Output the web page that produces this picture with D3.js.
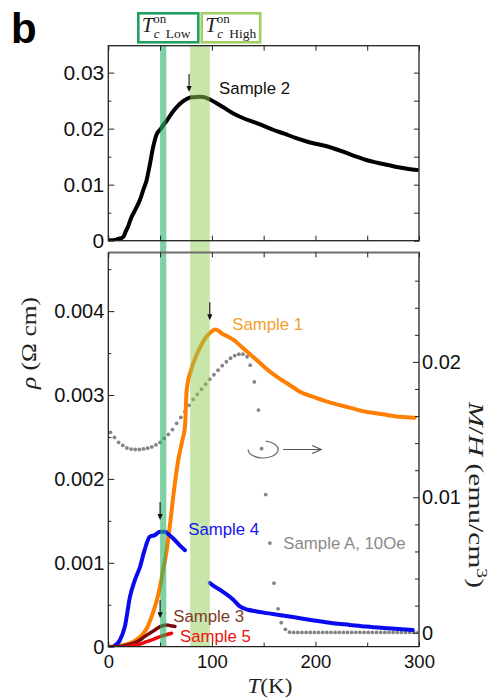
<!DOCTYPE html>
<html><head><meta charset="utf-8">
<script src="https://cdn.jsdelivr.net/npm/d3@7"></script>
<style>html,body{margin:0;padding:0;background:#fff;} svg{display:block;}</style>
</head><body><svg id="c" width="489" height="698"></svg>
<script>
// ---------------- data ----------------
const xTicks = [0, 100, 200, 300];
const xMinorTicks = [50, 150, 250];
const rhoTopTicks = [0, 0.01, 0.02, 0.03];
const rhoTopMinor = [0.005, 0.015, 0.025];
const rhoBotTicks = [0, 0.001, 0.002, 0.003, 0.004];
const rhoBotMinor = [0.0005, 0.0015, 0.0025, 0.0035, 0.0045];
const mhTicks = [0, 0.01, 0.02];
const mhMinor = [0.002, 0.004, 0.006, 0.008, 0.012, 0.014, 0.016, 0.018, 0.022, 0.024, 0.026];

const tcLow = [50, 56];
const tcHigh = [79, 98];

// Sample 2 (top panel)
const s2T   = [2, 5, 8, 11, 13, 15, 16, 19, 22.6, 26, 30.6, 34, 37, 40, 43.4, 46.7, 50, 53, 56.4, 60, 64, 69, 74, 78, 82, 88.5, 93, 98, 105, 112, 120.7, 130, 140, 150, 159, 170, 180, 190, 198, 208, 217, 228, 238, 249, 260, 270, 280, 290, 298];
const s2Rho = [0.0001, 0.0001, 0.0002, 0.0004, 0.0005, 0.0008, 0.0013, 0.0025, 0.0043, 0.0055, 0.0073, 0.0092, 0.0108, 0.0135, 0.0168, 0.0190, 0.0198, 0.0206, 0.0214, 0.0224, 0.0234, 0.0244, 0.0251, 0.0255, 0.0256, 0.0257, 0.0256, 0.0252, 0.0245, 0.0237, 0.0227, 0.0219, 0.0212, 0.0205, 0.0198, 0.0191, 0.0184, 0.0178, 0.0174, 0.0170, 0.0165, 0.0158, 0.0151, 0.0144, 0.0139, 0.0135, 0.0131, 0.0128, 0.0126];

// Sample 1
const s1T   = [2, 10, 18, 24, 30, 34, 38, 43, 47, 50, 53, 56.4, 60, 62.7, 67.6, 71.5, 74, 75.7, 80, 85.3, 90, 95, 98.2, 103, 106, 110, 115, 120.7, 130, 143, 152, 162.5, 175, 185, 200, 217, 233, 249, 265, 281.6, 296];
const s1Rho = [0, 0.00001, 0.00003, 0.00006, 0.00011, 0.00016, 0.00024, 0.0004, 0.00056, 0.00072, 0.00092, 0.00115, 0.0015, 0.00179, 0.00223, 0.00246, 0.00262, 0.00306, 0.0033, 0.00348, 0.0036, 0.0037, 0.00374, 0.00378, 0.00377, 0.00373, 0.0037, 0.00366, 0.00356, 0.00342, 0.00332, 0.00322, 0.00312, 0.00304, 0.00297, 0.0029, 0.00285, 0.0028, 0.00277, 0.00274, 0.00273];

// Sample 4 (two measured segments)
const s4aT   = [5, 11.3, 16, 21, 25.8, 30.6, 35, 40, 45, 50, 54.7, 58, 62.7, 68, 74];
const s4aRho = [0, 0.00008, 0.00024, 0.0006, 0.0008, 0.00095, 0.00115, 0.00131, 0.00133, 0.00137, 0.00137, 0.00134, 0.00129, 0.00122, 0.00115];
const s4bT   = [98, 100, 110, 120.7, 127, 135, 143, 153, 170, 185, 200, 217, 233, 249, 270, 294];
const s4bRho = [0.00076, 0.00074, 0.00066, 0.00056, 0.00048, 0.00044, 0.00042, 0.0004, 0.00037, 0.00034, 0.00031, 0.00028, 0.00026, 0.00024, 0.00022, 0.0002];

// Sample 3
const s3T   = [2, 10, 17.8, 24, 30.6, 35, 40, 45, 50, 56.4, 60, 64.4];
const s3Rho = [0, 0, 0.00002, 0.00004, 0.00008, 0.00012, 0.00016, 0.0002, 0.00024, 0.00026, 0.00025, 0.00024];

// Sample 5
const s5T   = [17.8, 25, 30, 37, 44, 50, 55, 61];
const s5Rho = [0, 0.00002, 0.00003, 0.00006, 0.00009, 0.00012, 0.00014, 0.00016];

// Sample A, 10 Oe : M/H (right axis)
const saT = [2, 6, 10, 14, 18, 22, 26, 30, 34, 38, 42, 46, 50, 54, 58, 62, 66, 70, 74, 78, 82, 86, 90, 94, 98, 102, 106, 110, 114, 118, 122, 126, 130, 134, 137, 141, 145, 148, 152, 156, 160, 164, 167, 171, 175, 179, 183, 187, 191, 195, 199, 203, 207, 211, 215, 219, 223, 227, 231, 235, 239, 243, 247, 251, 255, 259, 263, 267, 271, 275, 279, 283, 287, 291, 295, 299];
const saM = [0.0148, 0.01442, 0.01405, 0.01383, 0.01364, 0.01356, 0.01353, 0.01353, 0.01357, 0.01363, 0.01372, 0.01387, 0.01405, 0.01435, 0.01464, 0.0150, 0.01546, 0.0159, 0.01634, 0.01679, 0.01723, 0.0176, 0.01798, 0.01835, 0.01872, 0.01905, 0.01939, 0.01972, 0.02001, 0.02027, 0.02046, 0.02057, 0.02057, 0.02038, 0.01976, 0.01852, 0.01644, 0.01359, 0.0102, 0.00662, 0.00366, 0.00176, 0.00074, 0.00025, 0.00004, 0.00002, 0.00002, 0.00002, 0.00002, 0.00002, 0.00002, 0.00002, 0.00002, 0.00002, 0.00002, 0.00002, 0.00002, 0.00002, 0.00002, 0.00002, 0.00002, 0.00002, 0.00002, 0.00002, 0.00002, 0.00002, 0.00002, 0.00002, 0.00002, 0.00002, 0.00002, 0.00002, 0.00002, 0.00002, 0.00002, 0.00002];

// Onset arrows
const arrowT = [78, 98, 50, 50];
const arrowVal = [0.02655, 0.00389, 0.00151, 0.00034];
const arrowPanel = ["top", "bot", "bot", "bot"];

const sampleNames = ["Sample 1", "Sample 2", "Sample 3", "Sample 4", "Sample 5", "Sample A, 10Oe"];

// ---------------- drawing ----------------
const svg = d3.select("#c");
const SANS = "'Liberation Sans', Arial, sans-serif";
const SERIF = "'Liberation Serif', 'Times New Roman', serif";

const x = d3.scaleLinear().domain([0, 300]).range([108.3, 419]);
const yTop = d3.scaleLinear().domain([0, 0.0348]).range([240.7, 45.7]);
const yBot = d3.scaleLinear().domain([0, 0.0047]).range([646.7, 252.4]);
const yM = d3.scaleLinear().domain([0, 0.02]).range([632.7, 361.9]);

const defs = svg.append("defs");
defs.append("clipPath").attr("id", "clipTop").append("rect")
  .attr("x", x(0)).attr("y", yTop.range()[1]).attr("width", x(300) - x(0)).attr("height", yTop.range()[0] - yTop.range()[1]);
defs.append("clipPath").attr("id", "clipBot").append("rect")
  .attr("x", x(0)).attr("y", yBot.range()[1]).attr("width", x(300) - x(0)).attr("height", yBot.range()[0] - yBot.range()[1]);

// panel label
svg.append("text").attr("x", 11).attr("y", 43).attr("font-family", SANS).attr("font-weight", "bold")
  .attr("font-size", 42).attr("fill", "#000").text("b");

// curves
const gTop = svg.append("g").attr("clip-path", "url(#clipTop)");
const gBot = svg.append("g").attr("clip-path", "url(#clipBot)");

function drawLine(g, T, V, ys, color, w) {
  const pts = T.map((t, i) => [t, V[i]]);
  g.append("path").datum(pts)
    .attr("fill", "none").attr("stroke", color).attr("stroke-width", w)
    .attr("stroke-linejoin", "round").attr("stroke-linecap", "round")
    .attr("d", d3.line().x(d => x(d[0])).y(d => ys(d[1])).curve(d3.curveMonotoneX));
}

drawLine(gTop, s2T, s2Rho, yTop, "#000", 4);

// Sample A dots
gBot.append("g").selectAll("circle").data(saT.map((t, i) => [t, saM[i]])).join("circle")
  .attr("cx", d => x(d[0])).attr("cy", d => yM(d[1])).attr("r", 1.9).attr("fill", "#858585");

drawLine(gBot, s1T, s1Rho, yBot, "#ff7f00", 4);
drawLine(gBot, s4aT, s4aRho, yBot, "#0a0af0", 4);
drawLine(gBot, s4bT, s4bRho, yBot, "#0a0af0", 4);
drawLine(gBot, s3T, s3Rho, yBot, "#7a0a0a", 3.5);
drawLine(gBot, s5T, s5Rho, yBot, "#e80808", 3.5);

// Tc bands (translucent, over the curves)
const bandTop = yTop.range()[1], bandBot = yBot.range()[0];
svg.append("rect").attr("x", x(tcLow[0])).attr("width", x(tcLow[1]) - x(tcLow[0]))
  .attr("y", bandTop).attr("height", bandBot - bandTop)
  .attr("fill", "rgb(42,178,102)").attr("fill-opacity", 0.6);
svg.append("rect").attr("x", x(tcHigh[0])).attr("width", x(tcHigh[1]) - x(tcHigh[0]))
  .attr("y", bandTop).attr("height", bandBot - bandTop)
  .attr("fill", "rgb(145,205,85)").attr("fill-opacity", 0.5);

// frames
svg.append("rect").attr("x", x(0)).attr("y", yTop.range()[1]).attr("width", x(300) - x(0))
  .attr("height", yTop.range()[0] - yTop.range()[1]).attr("fill", "none").attr("stroke", "#222").attr("stroke-width", 1.3);
const bx0 = x(0), bx1 = x(300), by0 = yBot.range()[1], by1 = yBot.range()[0];
svg.append("path").attr("d", `M${bx0},${by0}H${bx1}V${by1}`).attr("fill", "none").attr("stroke", "#6e6e6e").attr("stroke-width", 2);
svg.append("path").attr("d", `M${bx0},${by0}V${by1}H${bx1}`).attr("fill", "none").attr("stroke", "#222").attr("stroke-width", 1.3);

// axes helper
function styleAxis(g, fs) {
  g.select(".domain").remove();
  g.selectAll("line").attr("stroke", "#222").attr("stroke-width", 1);
  g.selectAll("text").attr("font-family", SANS).attr("font-size", fs).attr("fill", "#111");
}
const fmt = p => d => d === 0 ? "0" : d3.format("." + p + "f")(d);

// top panel
svg.append("g").attr("transform", `translate(${x(0)},0)`)
  .call(d3.axisLeft(yTop).tickValues(rhoTopTicks).tickSize(-6).tickPadding(4).tickFormat(fmt(2))).call(g => styleAxis(g, 21));
svg.append("g").attr("transform", `translate(${x(0)},0)`)
  .call(d3.axisLeft(yTop).tickValues(rhoTopMinor).tickSize(-3).tickFormat("")).call(g => styleAxis(g, 0));
svg.append("g").attr("transform", `translate(${x(300)},0)`)
  .call(d3.axisRight(yTop).tickValues(rhoTopTicks.concat(rhoTopMinor)).tickSize(-5).tickFormat("")).call(g => styleAxis(g, 0));
svg.append("g").attr("transform", `translate(0,${yTop.range()[1]})`)
  .call(d3.axisTop(x).tickValues(xTicks.concat(xMinorTicks)).tickSize(-5).tickFormat("")).call(g => styleAxis(g, 0));
svg.append("g").attr("transform", `translate(0,${yTop.range()[0]})`)
  .call(d3.axisBottom(x).tickValues(xTicks.concat(xMinorTicks)).tickSize(-5).tickFormat("")).call(g => styleAxis(g, 0));

// bottom panel
svg.append("g").attr("transform", `translate(${x(0)},0)`)
  .call(d3.axisLeft(yBot).tickValues(rhoBotTicks).tickSize(-6).tickPadding(4).tickFormat(fmt(3))).call(g => styleAxis(g, 20));
svg.append("g").attr("transform", `translate(${x(0)},0)`)
  .call(d3.axisLeft(yBot).tickValues(rhoBotMinor).tickSize(-3).tickFormat("")).call(g => styleAxis(g, 0));
svg.append("g").attr("transform", `translate(${x(300)},0)`)
  .call(d3.axisRight(yM).tickValues(mhTicks).tickSize(-6).tickPadding(3).tickFormat(fmt(2))).call(g => styleAxis(g, 20));
svg.append("g").attr("transform", `translate(${x(300)},0)`)
  .call(d3.axisRight(yM).tickValues(mhMinor).tickSize(-4).tickFormat("")).call(g => styleAxis(g, 0));
svg.append("g").attr("transform", `translate(0,${by1})`)
  .call(d3.axisBottom(x).tickValues(xTicks).tickSize(-5).tickPadding(8).tickFormat(d3.format("d"))).call(g => styleAxis(g, 18.5));
svg.append("g").attr("transform", `translate(0,${by1})`)
  .call(d3.axisBottom(x).tickValues(xMinorTicks).tickSize(-4).tickFormat("")).call(g => styleAxis(g, 0));
svg.append("g").attr("transform", `translate(0,${by0})`)
  .call(d3.axisTop(x).tickValues(xTicks.concat(xMinorTicks)).tickSize(-5).tickFormat("")).call(g => styleAxis(g, 0));

// onset arrows
arrowT.forEach((t, i) => {
  const ys = arrowPanel[i] === "top" ? yTop : yBot;
  const ax = x(t), tip = ys(arrowVal[i]);
  svg.append("line").attr("x1", ax).attr("x2", ax).attr("y1", tip - 18).attr("y2", tip - 5)
    .attr("stroke", "#111").attr("stroke-width", 1.1);
  svg.append("path").attr("d", `M${ax - 2.6},${tip - 6}L${ax + 2.6},${tip - 6}L${ax},${tip}Z`).attr("fill", "#111");
});

// sample labels
const labelColors = ["#f2a128", "#111", "#7c3b26", "#1414f0", "#f01010", "#8a8a8a"];
const labelPos = [
  [x(119.7), yBot(0.003775)],
  [x(107), yTop(0.0262)],
  [x(62.7), yBot(0.00030)],
  [x(77.2), yBot(0.00133)],
  [x(69.2), yBot(0.00006)],
  [x(169), yBot(0.00117)]
];
sampleNames.forEach((n, i) => {
  svg.append("text").attr("x", labelPos[i][0]).attr("y", labelPos[i][1])
    .attr("font-family", SANS).attr("font-size", 16.8).attr("fill", labelColors[i]).text(n);
});

// M/H pointer symbol: ellipse around a Sample A point and arrow to right axis
{
  const cx = x(149.5), cy = yM(0.01353), rx = 15, ry = 8.5;
  const a0 = -80 * Math.PI / 180;
  const sx = cx + rx * Math.cos(a0), sy = cy + ry * Math.sin(a0);
  svg.append("path").attr("d", `M${sx},${sy}A${rx},${ry} 0 1 1 ${cx - rx},${cy}`)
    .attr("fill", "none").attr("stroke", "#6a6a6a").attr("stroke-width", 1.2);
  const ax0 = cx + 20, ax1 = cx + 58;
  svg.append("path").attr("d", `M${ax0},${cy}H${ax1}M${ax1 - 9},${cy - 4}L${ax1},${cy}L${ax1 - 9},${cy + 4}`)
    .attr("fill", "none").attr("stroke", "#555").attr("stroke-width", 1.2);
}

// Tc label boxes
function tcBox(bx, w, color, sub) {
  svg.append("rect").attr("x", bx).attr("y", 13.3).attr("width", w).attr("height", 29)
    .attr("fill", "#fff").attr("stroke", color).attr("stroke-width", 2.6);
  const t = svg.append("text").attr("font-family", SERIF).attr("fill", "#222");
  t.append("tspan").attr("x", bx + 3.5).attr("y", 32).attr("font-size", 21).attr("font-style", "italic").text("T");
  t.append("tspan").attr("x", bx + 15).attr("y", 23).attr("font-size", 13).text("on");
  t.append("tspan").attr("x", bx + 15.5).attr("y", 37.5).attr("font-size", 13).attr("font-style", "italic").text("c");
  t.append("tspan").attr("x", bx + 27.5).attr("y", 37.5).attr("font-size", 13.5).text(sub);
}
tcBox(138.3, 60, "#1fa060", "Low");
tcBox(201.7, 58.5, "#a3cf62", "High");

// axis titles
{
  const t = svg.append("text").attr("transform", "translate(36,343) rotate(-90)")
    .attr("text-anchor", "middle").attr("font-family", SERIF).attr("font-size", 21).attr("fill", "#222")
    .attr("textLength", 92).attr("lengthAdjust", "spacingAndGlyphs");
  t.append("tspan").attr("font-style", "italic").text("ρ");
  t.append("tspan").text(" (Ω cm)");
}
{
  const t = svg.append("text").attr("transform", "translate(469,495) rotate(90)")
    .attr("text-anchor", "middle").attr("font-family", SERIF).attr("font-size", 21).attr("fill", "#222")
    .attr("textLength", 186).attr("lengthAdjust", "spacingAndGlyphs");
  t.append("tspan").attr("font-style", "italic").text("M");
  t.append("tspan").text("/");
  t.append("tspan").attr("font-style", "italic").text("H");
  t.append("tspan").text(" (emu/cm");
  t.append("tspan").attr("font-size", 14).attr("dy", -8).text("3");
  t.append("tspan").attr("dy", 8).text(")");
}
{
  const t = svg.append("text").attr("x", 270).attr("y", 693).attr("text-anchor", "middle")
    .attr("font-family", SERIF).attr("font-size", 22).attr("fill", "#222")
    .attr("textLength", 45).attr("lengthAdjust", "spacingAndGlyphs");
  t.append("tspan").attr("font-style", "italic").text("T");
  t.append("tspan").text("(K)");
}
</script></body></html>
